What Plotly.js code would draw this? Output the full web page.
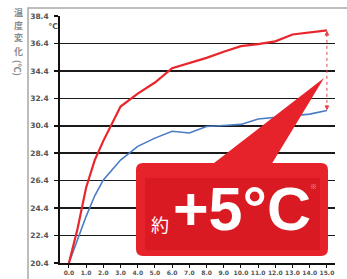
<!DOCTYPE html>
<html>
<head>
<meta charset="utf-8">
<script src="https://cdn.plot.ly/plotly-3.0.1.min.js"></script>
<style>html,body{margin:0;padding:0;background:#fff;}#chart{width:347px;height:279px;}</style>
</head>
<body>
<div id="chart"></div>
<script>
// Data (time in minutes, temperature in °C)
var redTime  = [0, 0.5, 1, 1.5, 2, 2.5, 3, 4, 5, 6, 7, 8, 9, 10, 11, 12, 13, 14, 15];
var redTemp  = [20.4, 22.9, 25.9, 27.9, 29.3, 30.6, 31.8, 32.75, 33.55, 34.6, 34.95, 35.35, 35.8, 36.2, 36.35, 36.55, 37.05, 37.2, 37.35];
var blueTime = [0, 0.5, 1, 1.5, 2, 3, 4, 5, 6, 7, 8, 9, 10, 11, 12, 13, 14, 15];
var blueTemp = [20.4, 22.1, 23.8, 25.3, 26.45, 27.9, 28.9, 29.5, 30.0, 29.87, 30.35, 30.42, 30.5, 30.9, 31.0, 31.1, 31.25, 31.52];
var yTickVals = [20.4, 22.4, 24.4, 26.4, 28.4, 30.4, 32.4, 34.4, 36.4, 38.4];
var yTickText = ["20.4", "22.4", "24.4", "26.4", "28.4", "30.4", "32.4", "34.4", "36.4", "38.4"];
var xTickVals = [0,1,2,3,4,5,6,7,8,9,10,11,12,13,14,15];
var xTickText = ["0.0","1.0","2.0","3.0","4.0","5.0","6.0","7.0","8.0","9.0","10.0","11.0","12.0","13.0","14.0","15.0"];
var yTitleChars = ['温', '度', '変', '化'];
var yTitleUnit = '(℃)';

var L = 60, R = 335, T = 16, B = 263;
function px(X){ return (X - L) / (R - L); }
function py(Y){ return (B - Y) / (B - T); }
function P(X, Y){ return px(X).toFixed(4) + ',' + py(Y).toFixed(4); }
function roundRect(X0, Y0, X1, Y1, r){
  return 'M' + P(X0 + r, Y0) + ' L' + P(X1 - r, Y0) + ' Q' + P(X1, Y0) + ' ' + P(X1, Y0 + r) +
         ' L' + P(X1, Y1 - r) + ' Q' + P(X1, Y1) + ' ' + P(X1 - r, Y1) +
         ' L' + P(X0 + r, Y1) + ' Q' + P(X0, Y1) + ' ' + P(X0, Y1 - r) +
         ' L' + P(X0, Y0 + r) + ' Q' + P(X0, Y0) + ' ' + P(X0 + r, Y0) + ' Z';
}

var traces = [
  {x: blueTime, y: blueTemp, type: 'scatter', mode: 'lines', line: {color: '#4a7cc4', width: 1.6}, hoverinfo: 'skip'},
  {x: redTime, y: redTemp, type: 'scatter', mode: 'lines', line: {color: '#e8262b', width: 2.2}, hoverinfo: 'skip'}
];

var lastT = redTime[redTime.length - 1];
var redEnd = redTemp[redTemp.length - 1];
var blueEnd = blueTemp[blueTemp.length - 1];

var shapes = [
  {type: 'rect', xref: 'paper', yref: 'paper', x0: px(28), y0: py(290), x1: px(352), y1: py(8),
   line: {color: '#a8a8a8', width: 1.5}, layer: 'below'},
  {type: 'line', xref: 'x', yref: 'y', x0: lastT, x1: lastT, y0: redEnd - 0.25, y1: blueEnd + 0.25,
   line: {color: '#e04848', width: 1, dash: 'dot'}, layer: 'above'},
  {type: 'path', xref: 'paper', yref: 'paper', path: 'M' + P(205, 170) + ' L' + P(324, 78) + ' L' + P(268, 170) + ' Z',
   fillcolor: '#e6222a', line: {width: 0}, layer: 'above'},
  {type: 'path', xref: 'paper', yref: 'paper', path: roundRect(136, 163, 328, 256, 7),
   fillcolor: '#e6222a', line: {width: 0}, layer: 'above'},
  {type: 'rect', xref: 'paper', yref: 'paper', x0: px(145), x1: px(320), y0: py(250), y1: py(178),
   fillcolor: '#d91a22', line: {width: 0}, layer: 'above'}
];

var annotations = [
  {xref: 'x', yref: 'y', x: lastT, y: redEnd, ax: 0, ay: 7, text: '', showarrow: true, arrowhead: 2, arrowsize: 1, arrowwidth: 1, arrowcolor: '#e04848'},
  {xref: 'x', yref: 'y', x: lastT, y: blueEnd, ax: 0, ay: -7, text: '', showarrow: true, arrowhead: 2, arrowsize: 1, arrowwidth: 1, arrowcolor: '#e04848'},
  {xref: 'paper', yref: 'paper', x: px(160), y: py(224), text: '約', showarrow: false,
   font: {family: 'Noto Sans CJK JP', size: 18, color: '#ffffff'}, xanchor: 'center', yanchor: 'middle'},
  {xref: 'paper', yref: 'paper', x: px(242), y: py(209), text: '+5°C', showarrow: false,
   font: {family: 'Liberation Sans', size: 61, color: '#ffffff', weight: 'bold'}, xanchor: 'center', yanchor: 'middle'},
  {xref: 'paper', yref: 'paper', x: px(313), y: py(186), text: '※', showarrow: false,
   font: {family: 'Noto Sans CJK JP', size: 7, color: '#f4a0a0'}, xanchor: 'center', yanchor: 'middle'},
  {xref: 'paper', yref: 'paper', x: px(53), y: py(27), text: '℃', showarrow: false,
   font: {family: 'DejaVu Sans', size: 8, color: '#555555', weight: 'bold'}, xanchor: 'center', yanchor: 'middle'},
  {xref: 'paper', yref: 'paper', x: px(18), y: py(68), text: yTitleUnit, showarrow: false, textangle: 90,
   font: {family: 'Noto Sans CJK JP', size: 9, color: '#8a8a8a', weight: 'bold'}, xanchor: 'center', yanchor: 'middle'}
];
yTitleChars.forEach(function(c, i){
  annotations.push({xref: 'paper', yref: 'paper', x: px(18), y: py(12 + i * 13), text: c, showarrow: false,
    font: {family: 'Noto Sans CJK JP', size: 9, color: '#8a8a8a', weight: 'bold'}, xanchor: 'center', yanchor: 'middle'});
});

var layout = {
  width: 347, height: 279,
  margin: {l: L, r: 347 - R, t: T, b: 279 - B, pad: 0},
  paper_bgcolor: '#ffffff', plot_bgcolor: '#ffffff',
  showlegend: false,
  xaxis: {range: [-0.52, 15.47], tickvals: xTickVals, ticktext: xTickText, showgrid: false, zeroline: false,
          showline: true, linecolor: '#111', linewidth: 1.5, ticks: 'outside', ticklen: 3, tickwidth: 1, tickcolor: '#111',
          tickfont: {family: 'DejaVu Sans', size: 6, color: '#555', weight: 'bold'}, fixedrange: true},
  yaxis: {range: [20.4, 38.4], tickvals: yTickVals, ticktext: yTickText, showgrid: true, gridcolor: '#1a1a1a', gridwidth: 1.5,
          zeroline: false, showline: true, linecolor: '#111', linewidth: 1.8, ticks: 'outside', ticklen: 4, tickwidth: 1.5, tickcolor: '#111',
          ticklabelstandoff: 4,
          tickfont: {family: 'DejaVu Sans', size: 7.5, color: '#555', weight: 'bold'}, fixedrange: true},
  shapes: shapes,
  annotations: annotations
};

Plotly.newPlot('chart', traces, layout, {staticPlot: true, displayModeBar: false});
</script>
</body>
</html>
